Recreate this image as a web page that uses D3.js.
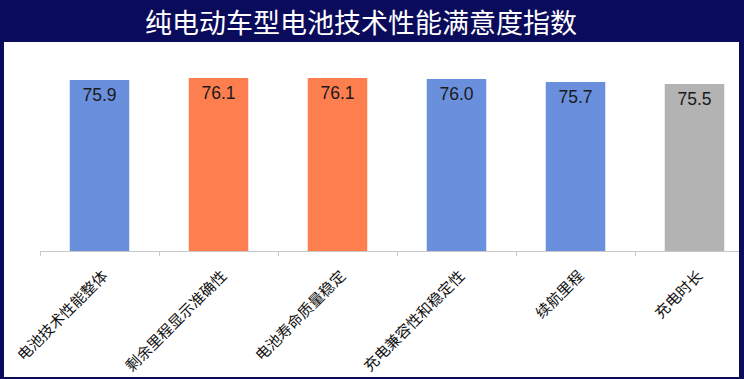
<!DOCTYPE html>
<html>
<head>
<meta charset="utf-8">
<script src="https://cdn.jsdelivr.net/npm/d3@7"></script>
<style>
  html, body { margin: 0; padding: 0; background: #0b0b5c; }
</style>
</head>
<body>
<div id="chart"></div>
<script>
"use strict"

// data
var categories = ["电池技术性能整体", "剩余里程显示准确性", "电池寿命质量稳定", "充电兼容性和稳定性", "续航里程", "充电时长"];
var values = [75.9, 76.1, 76.1, 76.0, 75.7, 75.5];
var barColors = ["#6a8fdc", "#fd7f4f", "#fd7f4f", "#6a8fdc", "#6a8fdc", "#b3b3b3"];
var title = "纯电动车型电池技术性能满意度指数";

var width = 744, height = 379;
var panel = {x: 4, y: 42, w: 735, h: 335};
var plotLeft = 40, plotRight = 754, axisY = 251;

var svg = d3.select("#chart").append("svg")
    .attr("width", width)
    .attr("height", height)
    .style("display", "block");

svg.append("rect")
    .attr("width", width)
    .attr("height", height)
    .attr("fill", "#0b0b5c");

svg.append("text")
    .attr("x", 361)
    .attr("y", 33)
    .attr("text-anchor", "middle")
    .style("font-family", "'Noto Sans CJK SC', sans-serif")
    .style("font-size", "27px")
    .style("fill", "#ffffff")
    .text(title);

svg.append("defs").append("clipPath")
    .attr("id", "panelClip")
  .append("rect")
    .attr("x", panel.x)
    .attr("y", panel.y)
    .attr("width", panel.w)
    .attr("height", panel.h);

svg.append("rect")
    .attr("x", panel.x)
    .attr("y", panel.y)
    .attr("width", panel.w)
    .attr("height", panel.h)
    .attr("fill", "#ffffff");

var g = svg.append("g").attr("clip-path", "url(#panelClip)");

var x = d3.scaleBand()
    .domain(categories)
    .range([plotLeft, plotRight])
    .paddingInner(0.5)
    .paddingOuter(0.25);

var y = d3.scaleLinear()
    .domain([58.8, 78.8])
    .range([axisY, axisY - 200]);

// bars
g.selectAll("rect.bar")
    .data(categories)
  .enter().append("rect")
    .attr("class", "bar")
    .attr("x", function(d){ return x(d); })
    .attr("width", x.bandwidth())
    .attr("y", function(d, i){ return y(values[i]); })
    .attr("height", function(d, i){ return axisY - y(values[i]); })
    .attr("fill", function(d, i){ return barColors[i]; });

// value labels
g.selectAll("text.val")
    .data(categories)
  .enter().append("text")
    .attr("class", "val")
    .attr("x", function(d){ return x(d) + x.bandwidth() / 2; })
    .attr("y", function(d, i){ return y(values[i]) + 21; })
    .attr("text-anchor", "middle")
    .style("font-family", "'Liberation Sans', Arial, sans-serif")
    .style("font-size", "17.5px")
    .style("fill", "#1a1a1a")
    .text(function(d, i){ return values[i].toFixed(1); });

// axis line and ticks at band boundaries
var gap = (x.step() - x.bandwidth()) / 2;
var bounds = categories.map(function(d){ return x(d) - gap; });
bounds.push(x(categories[categories.length - 1]) + x.bandwidth() + gap);

g.append("line")
    .attr("x1", plotLeft)
    .attr("x2", plotRight)
    .attr("y1", axisY + 0.5)
    .attr("y2", axisY + 0.5)
    .attr("stroke", "#c8c8c8")
    .attr("stroke-width", 1);

g.selectAll("line.tick")
    .data(bounds)
  .enter().append("line")
    .attr("class", "tick")
    .attr("x1", function(d){ return Math.round(d) + 0.5; })
    .attr("x2", function(d){ return Math.round(d) + 0.5; })
    .attr("y1", axisY)
    .attr("y2", axisY + 5)
    .attr("stroke", "#c8c8c8")
    .attr("stroke-width", 1);

// category labels
g.selectAll("text.cat")
    .data(categories)
  .enter().append("text")
    .attr("class", "cat")
    .attr("text-anchor", "end")
    .attr("transform", function(d){
      var cx = x(d) + x.bandwidth() / 2 + 9;
      return "translate(" + cx + "," + (axisY + 26) + ") rotate(-45)";
    })
    .style("font-family", "'Noto Sans CJK SC', sans-serif")
    .style("font-size", "15px")
    .style("fill", "#111111")
    .text(function(d){ return d; });
</script>
</body>
</html>
